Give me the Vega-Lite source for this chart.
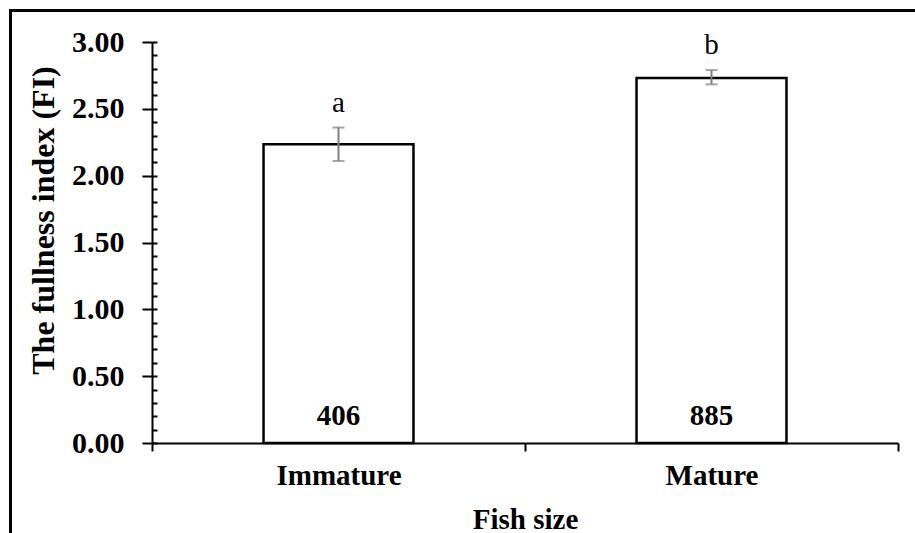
{
  "$schema": "https://vega.github.io/schema/vega-lite/v6.json",
  "width": 746,
  "height": 401,
  "autosize": {"type": "none"},
  "padding": {"left": 152, "top": 42, "right": 17, "bottom": 90},
  "background": "white",
  "config": {
    "view": {"stroke": null},
    "font": "Liberation Serif",
    "axis": {"grid": false, "domainColor": "black", "tickColor": "black", "domainWidth": 2, "tickWidth": 2, "labelColor": "black", "titleColor": "black"}
  },
  "data": {
    "values": [
      {"size": "Immature", "fi": 2.235, "lo": 2.11, "hi": 2.36, "n": "406", "letter": "a"},
      {"size": "Mature", "fi": 2.73, "lo": 2.683, "hi": 2.79, "n": "885", "letter": "b"}
    ]
  },
  "resolve": {"axis": {"x": "independent", "y": "independent"}},
  "layer": [
    {
      "mark": {"type": "bar", "fill": "white", "stroke": "black", "strokeWidth": 2.5, "width": {"band": 0.402}},
      "encoding": {
        "x": {
          "field": "size", "type": "nominal", "sort": null,
          "scale": {"paddingInner": 0, "paddingOuter": 0},
          "axis": {"orient": "bottom", "title": "Fish size", "tickBand": "extent", "tickSize": 8, "labelAngle": 0,
                   "labelFont": "Liberation Serif", "labelFontWeight": "bold", "labelFontSize": 29, "labelPadding": 10,
                   "titleFont": "Liberation Serif", "titleFontWeight": "bold", "titleFontSize": 29,
                   "titleX": 373, "titleY": 85, "titleBaseline": "alphabetic", "titleAlign": "center"}
        },
        "y": {
          "field": "fi", "type": "quantitative",
          "scale": {"domain": [0, 3], "nice": false, "zero": true},
          "axis": {"orient": "left", "title": "The fullness index (FI)", "values": [0, 0.5, 1, 1.5, 2, 2.5, 3], "format": ".2f",
                   "tickSize": 10, "labelPadding": 18,
                   "labelFont": "Liberation Serif", "labelFontWeight": "bold", "labelFontSize": 30,
                   "titleFont": "Liberation Serif", "titleFontWeight": "bold", "titleFontSize": 32,
                   "titleX": -109, "titleY": 178, "titleAngle": 270, "titleAlign": "center", "titleBaseline": "middle"}
        }
      }
    },
    {
      "mark": {"type": "rule", "strokeWidth": 2},
      "encoding": {
        "x": {"field": "size", "type": "nominal", "sort": null,
              "axis": {"orient": "bottom", "title": null, "labels": false, "domain": false, "tickSize": -7}},
        "y": {"field": "lo", "type": "quantitative",
              "axis": {"orient": "left", "title": null, "labels": false, "domain": false, "tickSize": -5,
                       "values": [0,0.1,0.2,0.3,0.4,0.5,0.6,0.7,0.8,0.9,1,1.1,1.2,1.3,1.4,1.5,1.6,1.7,1.8,1.9,2,2.1,2.2,2.3,2.4,2.5,2.6,2.7,2.8,2.9,3]}},
        "y2": {"field": "hi"},
        "color": {
          "datum": "frame",
          "scale": {"range": ["#7f7f7f"]},
          "legend": {"orient": "none", "legendX": -141.5, "legendY": -31.5, "padding": 600, "title": null,
                     "strokeColor": "black", "fillColor": null, "cornerRadius": 0,
                     "symbolOpacity": 0, "labelOpacity": 0, "labelExpr": "''",
                     "encoding": {"legend": {"strokeWidth": {"value": 3}}}}
        }
      }
    },
    {
      "mark": {"type": "tick", "color": "#7f7f7f", "size": 12, "thickness": 2},
      "encoding": {
        "x": {"field": "size", "type": "nominal", "sort": null, "axis": null},
        "y": {"field": "lo", "type": "quantitative", "axis": null}
      }
    },
    {
      "mark": {"type": "tick", "color": "#7f7f7f", "size": 12, "thickness": 2},
      "encoding": {
        "x": {"field": "size", "type": "nominal", "sort": null, "axis": null},
        "y": {"field": "hi", "type": "quantitative", "axis": null}
      }
    },
    {
      "mark": {"type": "text", "font": "Liberation Serif", "fontWeight": "bold", "fontSize": 29, "baseline": "alphabetic", "dy": -18, "color": "black"},
      "encoding": {
        "x": {"field": "size", "type": "nominal", "sort": null, "axis": null},
        "y": {"datum": 0, "type": "quantitative", "axis": null},
        "text": {"field": "n"}
      }
    },
    {
      "mark": {"type": "text", "font": "Liberation Serif", "fontSize": 29, "baseline": "alphabetic", "dy": -16, "color": "black"},
      "encoding": {
        "x": {"field": "size", "type": "nominal", "sort": null, "axis": null},
        "y": {"field": "hi", "type": "quantitative", "axis": null},
        "text": {"field": "letter"}
      }
    }
  ]
}
